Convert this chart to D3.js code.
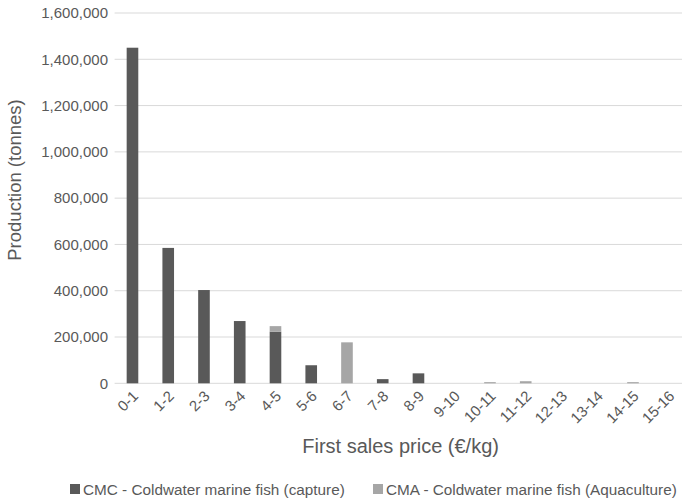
<!DOCTYPE html>
<html>
<head>
<meta charset="utf-8">
<script src="https://cdn.jsdelivr.net/npm/d3@7"></script>
<style>
  html, body { margin: 0; padding: 0; background: #fff; }
  svg { display: block; font-family: "Liberation Sans", Arial, sans-serif; }
</style>
</head>
<body>
<svg id="chart" width="682" height="499"></svg>
<script>
const categories = ["0-1","1-2","2-3","3-4","4-5","5-6","6-7","7-8","8-9","9-10","10-11","11-12","12-13","13-14","14-15","15-16"];
const cmcValues = [1450000, 585000, 403000, 269000, 223000, 78000, 0, 18000, 43000, 0, 0, 0, 0, 0, 0, 0];
const cmaValues = [0, 0, 0, 0, 24000, 0, 177000, 0, 0, 0, 5000, 9000, 0, 0, 5000, 0];
const yTicks = [0, 200000, 400000, 600000, 800000, 1000000, 1200000, 1400000, 1600000];
const seriesNames = ["CMC - Coldwater marine fish (capture)", "CMA - Coldwater marine fish (Aquaculture)"];
const seriesColors = ["#595959", "#a6a6a6"];

const svg = d3.select("#chart");
const plotLeft = 114.6, plotRight = 686.6, plotTop = 13, plotBottom = 383.3;

const x = d3.scaleBand().domain(categories).range([plotLeft, plotRight])
  .paddingInner(0.675).paddingOuter(0.3375);
const y = d3.scaleLinear().domain([0, 1600000]).range([plotBottom, plotTop]);

// gridlines
svg.append("g").selectAll("line").data(yTicks).join("line")
  .attr("x1", plotLeft).attr("x2", plotRight)
  .attr("y1", d => y(d)).attr("y2", d => y(d))
  .attr("stroke", "#d9d9d9").attr("stroke-width", 1);

// y tick labels
svg.append("g").selectAll("text").data(yTicks).join("text")
  .attr("x", 108).attr("y", d => y(d))
  .attr("dy", "0.35em")
  .attr("text-anchor", "end")
  .attr("font-size", 15)
  .attr("fill", "#595959")
  .text(d => d3.format(",")(d));

// stacked bars
const rows = categories.map((c, i) => ({cat: c, CMC: cmcValues[i], CMA: cmaValues[i]}));
const stack = d3.stack().keys(["CMC", "CMA"])(rows);
svg.append("g").selectAll("g").data(stack).join("g")
  .attr("fill", (d, i) => seriesColors[i])
  .selectAll("rect").data(d => d).join("rect")
  .attr("x", d => x(d.data.cat))
  .attr("width", x.bandwidth())
  .attr("y", d => y(d[1]))
  .attr("height", d => Math.max(0, y(d[0]) - y(d[1])));

// x tick labels
svg.append("g").selectAll("text").data(categories).join("text")
  .attr("transform", d => `translate(${x(d) + x.bandwidth() / 2 + 3},${plotBottom + 10}) rotate(-45)`)
  .attr("text-anchor", "end")
  .attr("dy", "0.35em")
  .attr("font-size", 15)
  .attr("fill", "#595959")
  .text(d => d);

// axis titles
svg.append("text")
  .attr("x", (plotLeft + plotRight) / 2).attr("y", 453)
  .attr("text-anchor", "middle")
  .attr("font-size", 20)
  .attr("fill", "#595959")
  .text("First sales price (€/kg)");

svg.append("text")
  .attr("transform", "translate(15,180) rotate(-90)")
  .attr("text-anchor", "middle")
  .attr("dy", "0.35em")
  .attr("font-size", 18.5)
  .attr("fill", "#595959")
  .text("Production (tonnes)");

// legend
const legendX = [70, 373];
const lg = svg.append("g").selectAll("g").data(seriesNames).join("g")
  .attr("transform", (d, i) => `translate(${legendX[i]},484)`);
lg.append("rect").attr("width", 10).attr("height", 10).attr("fill", (d, i) => seriesColors[i]);
lg.append("text").attr("x", 13).attr("y", 10.5)
  .attr("font-size", 15.3).attr("fill", "#595959").text(d => d);
</script>
</body>
</html>
